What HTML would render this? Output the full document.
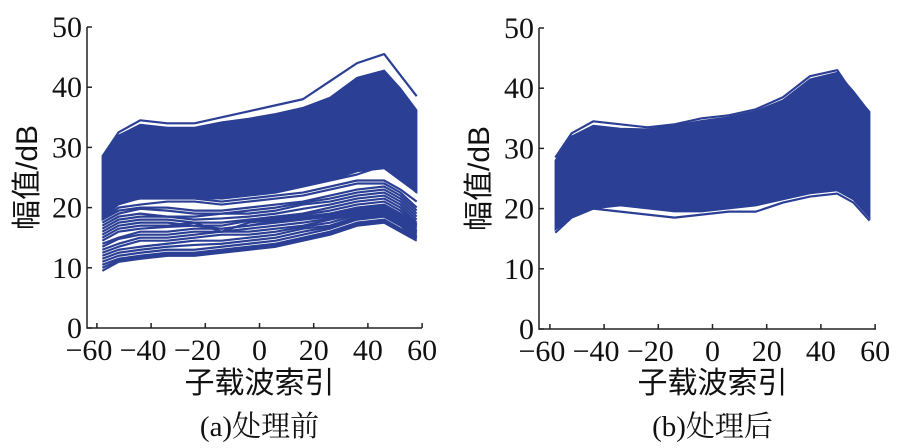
<!DOCTYPE html>
<html><head><meta charset="utf-8"><style>
html,body{margin:0;padding:0;background:#fff;width:898px;height:448px;overflow:hidden}
svg text{font-family:"Liberation Serif","Noto Serif CJK SC",serif;fill:#111}
.cjk{font-family:"Liberation Sans","Noto Sans CJK SC",sans-serif}
</style></head><body>
<svg id="chart" width="898" height="448" xmlns="http://www.w3.org/2000/svg"></svg>
<script>
const subcarriers=[-58,-52,-44,-34,-24,-14,-4,6,16,26,36,46,52,58];
const yTicks=[0,10,20,30,40,50];
const xTicks=[-60,-40,-20,0,20,40,60];
// panel a
const aBandTop=[28.5,32,33.8,33.3,33.3,34.2,34.8,35.6,36.6,38.3,41.6,42.8,39.8,36.2];
const aBandBot=[18,20.5,21.5,21.5,21.5,21.5,22,22.5,23.5,24.5,26,26.5,24.5,22.5];
const aLines=[
[28.5,32.5,34.5,34,34,35,36,37,38,41,44,45.5,42,38.5],
[9.5,11,11.5,12,12,12.5,13,13.5,14.5,15.5,17,17.5,16,14.5],
[10,11.2,11.8,12.2,12.2,12.8,13.2,13.8,14.8,15.8,17.2,17.8,16.2,14.8],
[10.5,11.5,12,12.5,12.5,13,13.5,14,15,16,17.5,18,16.5,15],
[11,12,12.5,13,13,13.5,14,14.5,15.5,16.5,18,18.5,17,15],
[11.5,12.5,13,13.5,13.8,14,14.5,15,16,16.8,18.2,18.8,17.2,15.2],
[12,13,13.5,14,14.5,14.5,15,15.5,16.5,17,18.5,19,17.5,15.5],
[12.5,13.5,14.5,14.5,15,15.5,15.5,16,16.8,17.5,18.8,19.2,17.8,15.8],
[13,14,15,15,15.5,16,16,16.5,17,18,19,19.5,18,16],
[13.5,14.8,15.5,15.5,16,16,16.5,17,17.5,18.2,19.2,19.8,18.2,16.2],
[14,15,16,16,16.5,16.5,17,17.5,18,18.5,19.5,20,18.5,16.5],
[14.5,16,16.5,16.8,17,16.5,17,17.8,18.2,18.8,19.8,20.2,18.8,16.8],
[15,16.5,17,17,17.5,16,17.5,18,18.5,19,20,20.5,19,17],
[15.5,17,17.5,17.5,17,17,17.8,18.2,18.8,19.5,20.5,21,19.5,17.2],
[16,17.5,18,18,17.5,17.5,18,18.5,19,20,21,21.5,20,17.5],
[16.5,18,18.5,18.5,18,18.2,18.5,19,19.8,20.5,21.5,22,20.5,18],
[17,18.5,19,18.5,18.5,19,19,19.5,20.5,21,22,22.5,21,18.5],
[17.5,19,19.8,19.5,19,19,19.5,20,20.8,21.5,22.5,23,21.5,19],
[18,19.5,20,20,19.5,19.5,20,20.5,21,22,23,23.5,22,19.5],
[18,20,20.5,21,21,20.5,21,21.5,22,23,24,24,22.5,20],
[19,21,21.5,21.5,21.5,21,21.5,22,22.5,23.5,24.5,24.5,23,21],
[20,22,22,22,22,21.5,22,22.5,23.5,24.5,25.5,27,25,22.5]
];
// panel b
const bBandTop=[28,32,33.8,33.3,33.2,33.8,34.6,35.2,36.2,38,41.5,42.6,39.5,36];
const bBandBot=[16.5,18.5,20,20.5,20,19.5,19.5,20,20.5,21.5,22.5,23,21.5,18.5];
const bLines=[
[28.5,32.5,34.5,34,33.5,34,35,35.5,36.5,38.5,42,43,39,36],
[16,18.5,20,19.5,19,18.5,19,19.5,19.5,21,22,22.5,21,18],
[18,19.5,21,21,20.5,20.5,20,21,21.5,22.5,23.5,23.5,22,19.5],
[20,21,22,22.5,22.5,22,22.5,23,23.5,24.5,26,27,24.5,23]
];
const C="#2b3f95";
const svg=document.getElementById('chart');
const NS="http://www.w3.org/2000/svg";
function mk(tag,attrs,parent){const e=document.createElementNS(NS,tag);for(const k in attrs)e.setAttribute(k,attrs[k]);(parent||svg).appendChild(e);return e;}
function panel(id,x0,xAxisLeft,xAxisRight,yBase,bandTop,bandBot,lines,caption){
  const g=mk('g',{});
  
  
  const sx=v=>x0+v*2.71;
  const sy=v=>yBase-v*6.02;
  let pts=subcarriers.map((s,i)=>sx(s)+','+sy(bandTop[i]));
  pts=pts.concat(subcarriers.map((s,i)=>sx(s)+','+sy(bandBot[i])).reverse());
  const band=mk('polygon',{points:pts.join(' '),fill:C,stroke:C,'stroke-width':1.5},g);
  
  
  lines.forEach((ln,k)=>{
    const p=mk('polyline',{points:subcarriers.map((s,i)=>sx(s)+','+sy(ln[i])).join(' '),fill:'none',stroke:C,'stroke-width':2.2,'stroke-linejoin':'round'},g);
    
    
  });
  const ax=mk('path',{d:`M${xAxisLeft},${sy(50)}V${yBase}H${xAxisRight}`,fill:'none',stroke:'#222','stroke-width':1.5},g);
  
  
  yTicks.forEach(t=>{
    mk('line',{x1:xAxisLeft,x2:xAxisLeft+5,y1:sy(t),y2:sy(t),stroke:'#222','stroke-width':1.5},g);
    const tx=mk('text',{x:xAxisLeft-5,y:sy(t)+10,'text-anchor':'end','font-size':30},g);
    tx.textContent=t;
    
    
  });
  xTicks.forEach(t=>{
    mk('line',{x1:sx(t),x2:sx(t),y1:yBase,y2:yBase-5,stroke:'#222','stroke-width':1.5},g);
    const tx=mk('text',{x:sx(t)-(t<0?8:0),y:yBase+32,'text-anchor':'middle','font-size':30},g);
    tx.textContent=t<0?'\u2212'+(-t):t;
    
    
  });
  const yt=mk('text',{x:0,y:0,'text-anchor':'middle','font-size':30,transform:`translate(${xAxisLeft-50},${sy(25)}) rotate(-90)`,class:'cjk'},g);
  yt.textContent='幅值/dB';
  
  
  const xt=mk('text',{x:x0,y:393,'text-anchor':'middle','font-size':30,class:'cjk'},g);
  xt.textContent='子载波索引';
  
  
  const cp=mk('text',{x:x0,y:436,'text-anchor':'middle','font-size':29},g);
  cp.textContent=caption;
  
  
}
panel('panel-a',259.5,87,422,328,aBandTop,aBandBot,aLines,'(a)处理前');
panel('panel-b',712.5,539,876,329,bBandTop,bBandBot,bLines,'(b)处理后');
</script>
</body></html>
